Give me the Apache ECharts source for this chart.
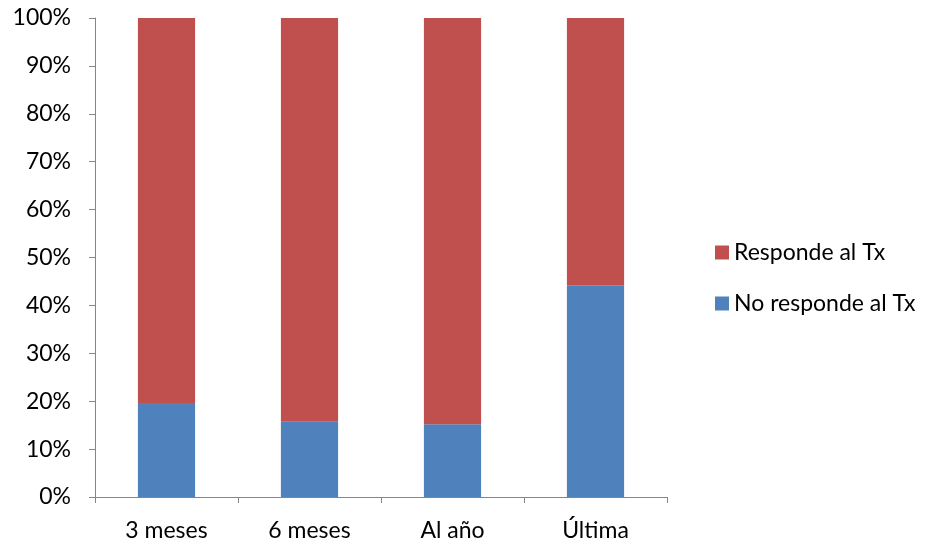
<!DOCTYPE html>
<html>
<head>
<meta charset="utf-8">
<script src="https://cdn.jsdelivr.net/npm/echarts@6/dist/echarts.min.js"></script>
<style>
  html, body { margin: 0; padding: 0; background: #fff; }
  #chart { width: 928px; height: 544px; }
</style>
</head>
<body>
<div id="chart"></div>
<script>
// Response to treatment over follow-up, shares in percent
const categories = ['3 meses', '6 meses', 'Al año', 'Última'];
const noResponde = [19.6, 15.7, 15.2, 44.2];
const responde = [80.4, 84.3, 84.8, 55.8];
const yTicks = [0, 10, 20, 30, 40, 50, 60, 70, 80, 90, 100];

const font = 'Lato, "Open Sans", sans-serif';
const axisGrey = '#868686';

const chart = echarts.init(document.getElementById('chart'), null, { renderer: 'canvas' });
chart.setOption({
  animation: false,
  textStyle: { fontFamily: font },
  grid: { left: 95, right: 261, top: 18, bottom: 47, containLabel: false },
  legend: {
    orient: 'vertical',
    left: 710,
    top: 236,
    itemWidth: 14,
    itemHeight: 14,
    itemGap: 28,
    icon: 'rect',
    data: ['Responde al Tx', 'No responde al Tx'],
    textStyle: { fontFamily: font, fontSize: 23, color: '#000', padding: [0, 0, 0, 0] }
  },
  xAxis: {
    type: 'category',
    data: categories,
    axisLine: { lineStyle: { color: axisGrey, width: 1 } },
    axisTick: { show: true, alignWithLabel: false, length: 6, lineStyle: { color: axisGrey } },
    axisLabel: { color: '#000', fontSize: 23, fontFamily: font, margin: 22 },
    splitLine: { show: false }
  },
  yAxis: {
    type: 'value',
    min: yTicks[0],
    max: yTicks[yTicks.length - 1],
    interval: 10,
    axisLine: { show: true, lineStyle: { color: axisGrey, width: 1 } },
    axisTick: { show: true, length: 6, lineStyle: { color: axisGrey } },
    axisLabel: {
      color: '#000', fontSize: 23, fontFamily: font, margin: 24,
      formatter: v => v + '%'
    },
    splitLine: { show: false }
  },
  series: [
    {
      name: 'No responde al Tx',
      type: 'bar',
      stack: 'total',
      barWidth: '40%',
      data: noResponde,
      itemStyle: { color: '#4F81BD' }
    },
    {
      name: 'Responde al Tx',
      type: 'bar',
      stack: 'total',
      barWidth: '40%',
      data: responde,
      itemStyle: { color: '#C0504D' }
    }
  ]
});
</script>
</body>
</html>
